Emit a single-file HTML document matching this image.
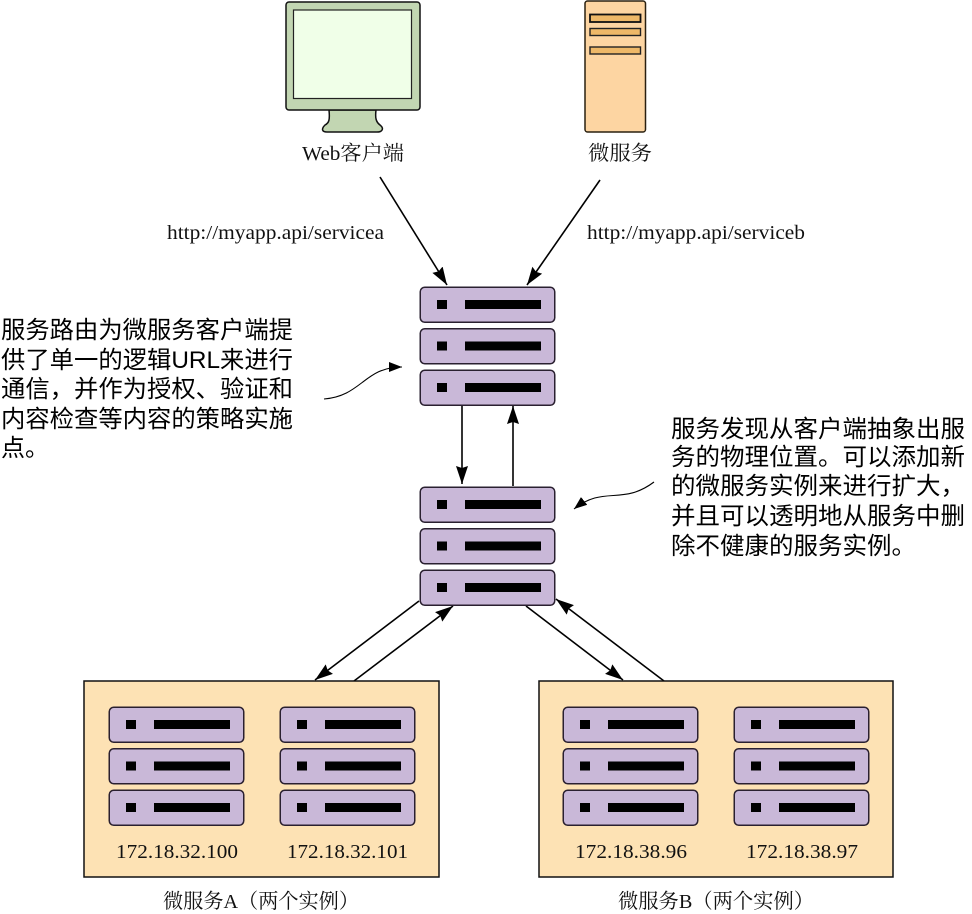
<!DOCTYPE html>
<html><head><meta charset="utf-8"><style>
html,body{margin:0;padding:0;background:#fff;width:972px;height:914px;overflow:hidden}
svg{display:block}
.s{font-family:"Liberation Serif","Noto Serif CJK SC",serif;font-size:20.5px;fill:#111}
.c{font-family:"Liberation Sans","WenQuanYi Zen Hei","Noto Sans CJK SC",sans-serif;font-size:24px;fill:#000}
.l{stroke:#000;stroke-width:1.6;fill:none}
</style></head><body>
<svg width="972" height="914" viewBox="0 0 972 914" xmlns="http://www.w3.org/2000/svg">
<defs>
<marker id="a" markerUnits="userSpaceOnUse" markerWidth="20" markerHeight="14" refX="18" refY="6" orient="auto"><path d="M0,0L18,6L0,12L2,6Z" fill="#000"/></marker>
<marker id="b" markerUnits="userSpaceOnUse" markerWidth="16" markerHeight="12" refX="13" refY="5" orient="auto"><path d="M0,0L13,5L0,10Z" fill="#000"/></marker>
<g id="r"><rect x=".25" y=".25" width="134.5" height="35" rx="4.5" fill="#c9b8d8" stroke="#2a2030" stroke-width="1.5"/><rect x="17" y="13" width="10" height="9" fill="#000"/><rect x="45" y="13" width="76" height="9" fill="#000"/></g>
<g id="t"><use href="#r" y="0"/><use href="#r" y="41.5"/><use href="#r" y="83"/></g>
</defs>

<!-- monitor -->
<path d="M329,110C330,120 329,123 325,125C321,129 322,132 327,132H377C383,132 384,128 380,125C376,122 375,118 376,110Z" fill="#c2d6b2" stroke="#111" stroke-width="1.5"/>
<rect x="286" y="2" width="134" height="108" rx="3" fill="#c2d6b2" stroke="#111" stroke-width="1.5"/>
<rect x="293.500" y="10" width="118" height="88.500" fill="#f0ffe8" stroke="#222" stroke-width="1.2"/>
<!-- tower -->
<rect x="585" y="1" width="60.500" height="131" rx="2.500" fill="#fdd5a2" stroke="#2a2010" stroke-width="1.5"/>
<rect x="590" y="14.500" width="50.500" height="7.500" fill="#eeb868" stroke="#111" stroke-width="1.8"/>
<rect x="590" y="28.500" width="50.500" height="7" fill="#eeb868" stroke="#222" stroke-width="1.4"/>
<rect x="590" y="47" width="50.500" height="7" fill="#eeb868" stroke="#222" stroke-width="1.4"/>

<text class="s" x="302" y="160" textLength="102" lengthAdjust="spacingAndGlyphs">Web客户端</text>
<text class="s" x="588" y="160" textLength="64" lengthAdjust="spacingAndGlyphs">微服务</text>
<text class="s" x="167" y="239" textLength="217" lengthAdjust="spacingAndGlyphs">http://myapp.api/servicea</text>
<text class="s" x="587" y="239" textLength="218" lengthAdjust="spacingAndGlyphs">http://myapp.api/serviceb</text>

<!-- arrows -->
<path class="l" marker-end="url(#a)" d="M380,177L447,285"/>
<path class="l" marker-end="url(#a)" d="M600,180L527,285"/>
<path class="l" marker-end="url(#a)" d="M462,405L462,484"/>
<path class="l" marker-end="url(#a)" d="M513,486L513,406"/>
<path class="l" marker-end="url(#a)" d="M419,601L315,680"/>
<path class="l" marker-end="url(#a)" d="M354,681L453,606"/>
<path class="l" marker-end="url(#a)" d="M526,606L623,680"/>
<path class="l" marker-end="url(#a)" d="M664,681L556,599"/>
<path class="l" style="stroke-width:1.100" marker-end="url(#b)" d="M324,399C362,396 364,367 402,367"/>
<path class="l" style="stroke-width:1.100" marker-end="url(#b)" d="M654,482C622,506 604,485 574,509"/>

<use href="#t" x="420" y="287"/>
<use href="#t" x="420" y="487"/>

<!-- boxes -->
<rect x="84" y="681" width="355" height="196" fill="#fde2b4" stroke="#111" stroke-width="1.5"/>
<rect x="539" y="681" width="354" height="196" fill="#fde2b4" stroke="#111" stroke-width="1.5"/>
<use href="#t" x="109" y="707"/>
<use href="#t" x="280" y="707"/>
<use href="#t" x="563" y="707"/>
<use href="#t" x="734" y="707"/>

<text class="s" x="116" y="858" textLength="122" lengthAdjust="spacingAndGlyphs">172.18.32.100</text>
<text class="s" x="287" y="858" textLength="121" lengthAdjust="spacingAndGlyphs">172.18.32.101</text>
<text class="s" x="575" y="858" textLength="112" lengthAdjust="spacingAndGlyphs">172.18.38.96</text>
<text class="s" x="746" y="858" textLength="112" lengthAdjust="spacingAndGlyphs">172.18.38.97</text>
<text class="s" x="163" y="908" textLength="196" lengthAdjust="spacingAndGlyphs">微服务A（两个实例）</text>
<text class="s" x="618" y="908" textLength="196" lengthAdjust="spacingAndGlyphs">微服务B（两个实例）</text>

<!-- left callout -->
<text class="c" x="1" y="338" textLength="292" lengthAdjust="spacingAndGlyphs">服务路由为微服务客户端提</text>
<text class="c" x="1" y="368" textLength="292" lengthAdjust="spacingAndGlyphs">供了单一的逻辑URL来进行</text>
<text class="c" x="1" y="397" textLength="292" lengthAdjust="spacingAndGlyphs">通信，并作为授权、验证和</text>
<text class="c" x="1" y="427" textLength="292" lengthAdjust="spacingAndGlyphs">内容检查等内容的策略实施</text>
<text class="c" x="1" y="456">点。</text>

<!-- right callout -->
<text class="c" x="671" y="437" textLength="294" lengthAdjust="spacingAndGlyphs">服务发现从客户端抽象出服</text>
<text class="c" x="671" y="465" textLength="294" lengthAdjust="spacingAndGlyphs">务的物理位置。可以添加新</text>
<text class="c" x="671" y="494" textLength="294" lengthAdjust="spacingAndGlyphs">的微服务实例来进行扩大，</text>
<text class="c" x="671" y="524" textLength="294" lengthAdjust="spacingAndGlyphs">并且可以透明地从服务中删</text>
<text class="c" x="671" y="554" textLength="245" lengthAdjust="spacingAndGlyphs">除不健康的服务实例。</text>
</svg>
</body></html>
